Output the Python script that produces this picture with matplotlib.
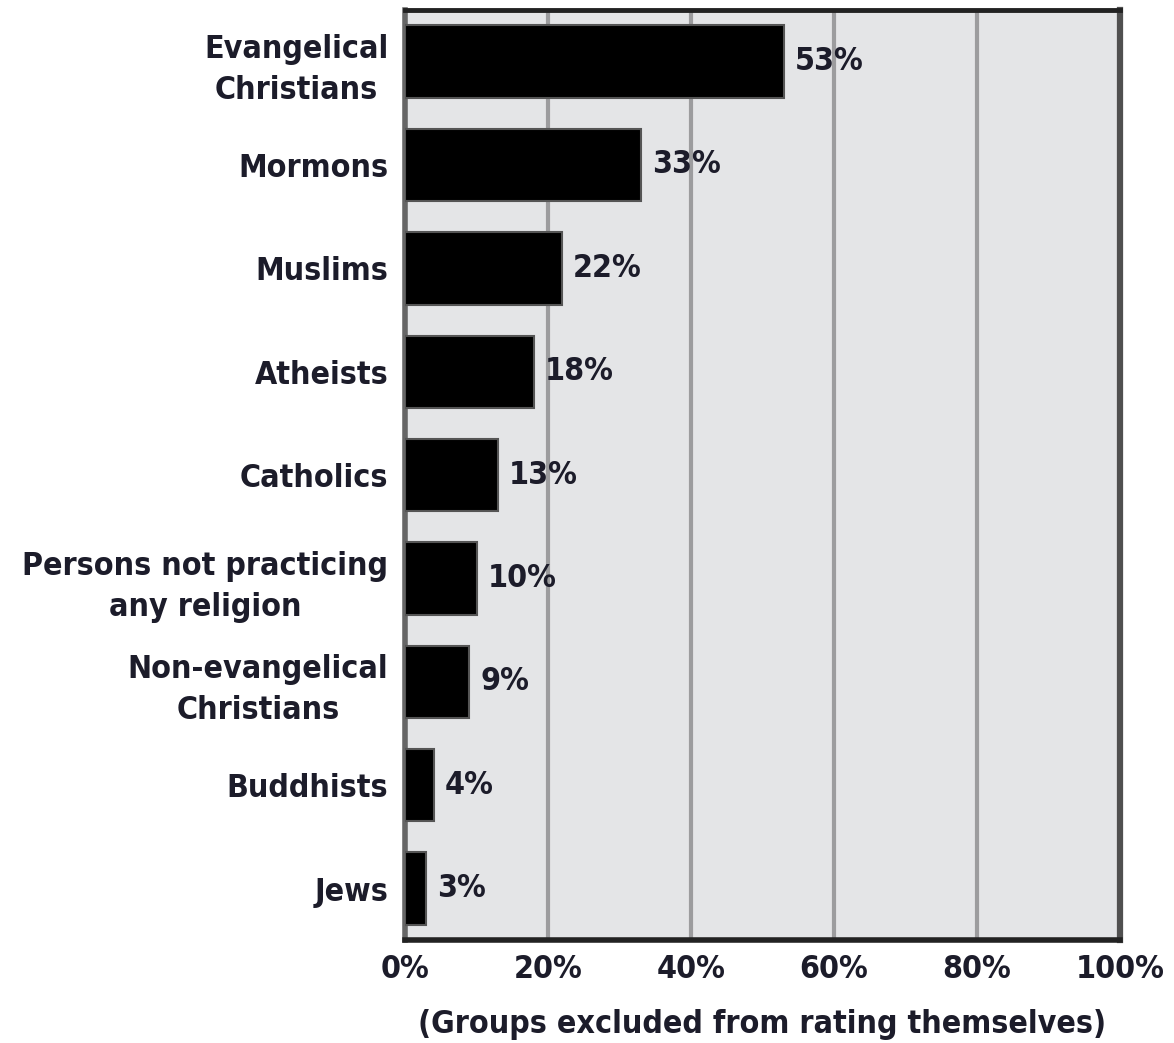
import matplotlib.pyplot as plt
import numpy as np

# groups and share of respondents who would exclude them
groups = ['Evangelical\nChristians', 'Mormons', 'Muslims', 'Atheists', 'Catholics',
          'Persons not practicing\nany religion', 'Non-evangelical\nChristians',
          'Buddhists', 'Jews']
values = [53, 33, 22, 18, 13, 10, 9, 4, 3]
xticks = [0, 20, 40, 60, 80, 100]

plt.rcParams['font.family'] = ['DejaVu Sans']
plt.rcParams['font.stretch'] = 'condensed'
txt = '#1c1c2a'
fs = 23

fig = plt.figure(figsize=(11.74, 10.43), dpi=100)
ax = fig.add_axes([0.345, 0.0985, 0.609, 0.892])
ax.set_facecolor('#e4e5e7')

y = np.arange(len(groups))
ax.barh(y, values, height=0.7, color='black', edgecolor='#555555',
        linewidth=1.5, zorder=3)
for yi, v in zip(y, values):
    ax.text(v + 1.5, yi, f'{v}%', va='center', ha='left', fontsize=fs,
            fontweight='bold', color=txt, zorder=4)

ax.set_xlim(0, 100)
ax.set_ylim(len(groups) - 0.5, -0.5)
for gx in xticks[1:-1]:
    ax.axvline(gx, color='#9c9c9e', linewidth=3, zorder=1)

ax.set_yticks(y)
ax.set_yticklabels(groups, fontsize=fs, fontweight='bold', color=txt,
                   ha='right', multialignment='center', linespacing=1.4)
ax.set_xticks(xticks)
ax.set_xticklabels([f'{t}%' for t in xticks], fontsize=fs, fontweight='bold', color=txt)
ax.tick_params(length=0, pad=10)
ax.tick_params(axis='y', pad=12)
ax.set_xlabel('(Groups excluded from rating themselves)', fontsize=fs,
              fontweight='bold', color=txt, labelpad=17)

for side, c, w in [('top', '#222222', 3.5), ('bottom', '#222222', 4),
                   ('left', '#666666', 4), ('right', '#505050', 4.5)]:
    ax.spines[side].set_color(c)
    ax.spines[side].set_linewidth(w)

fig.savefig('out.png', dpi=100)
